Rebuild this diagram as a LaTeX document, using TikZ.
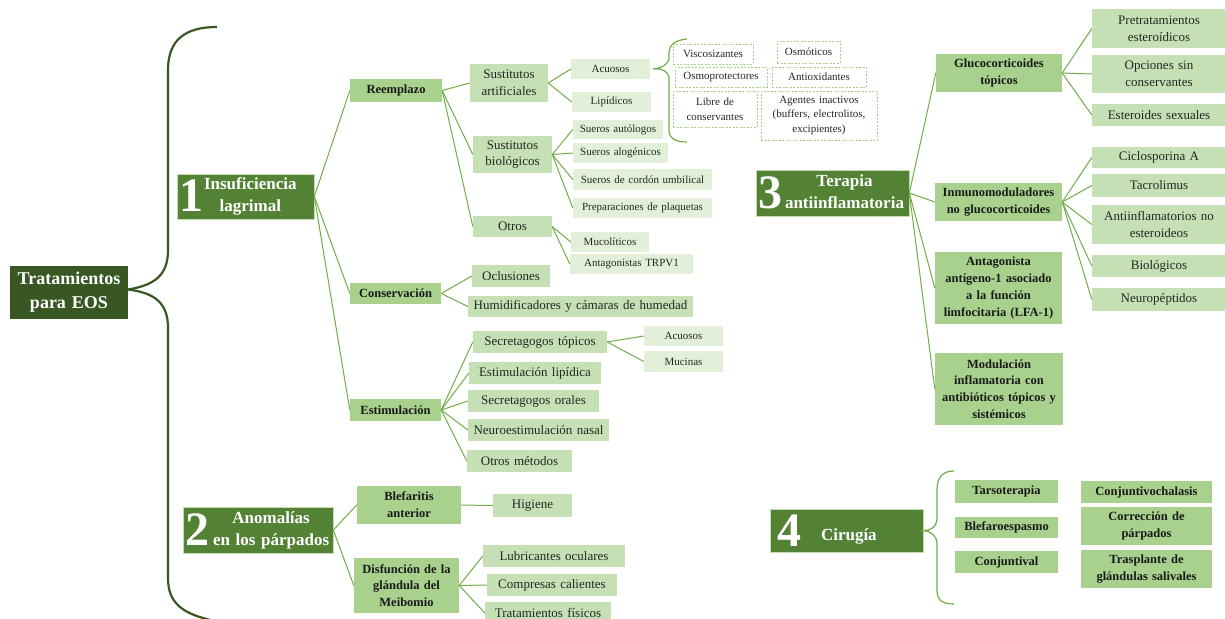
\documentclass[tikz,border=0pt]{standalone}
\usepackage{fontspec}
\setmainfont{Liberation Serif}
\usepackage{tikz}
\definecolor{rootgreen}{HTML}{385723}
\definecolor{midgreen}{HTML}{548235}
\definecolor{lgreen}{HTML}{A9D18E}
\definecolor{llgreen}{HTML}{C5E0B4}
\definecolor{lllgreen}{HTML}{E2F0D9}
\definecolor{linegreen}{HTML}{70AD47}
\tikzset{
  sz/.style 2 args={text width=#1pt, minimum height=#2pt},
  rootbox/.style={fill=rootgreen, text=white, inner sep=0pt, align=center, font=\fontsize{18}{24}\selectfont\bfseries},
  lvlone/.style={fill=midgreen, draw=lgreen!70, line width=0.6pt, text=white, inner xsep=2pt, inner ysep=0pt, align=left, font=\fontsize{17}{21.7}\selectfont\bfseries},
  lvltwo/.style={fill=lgreen, text=black!90, inner sep=0pt, align=center, font=\fontsize{12.5}{16.7}\selectfont\bfseries},
  lvlthree/.style={fill=llgreen, text=black!85, inner sep=0pt, align=center, font=\fontsize{13}{16.7}\selectfont},
  lvlfour/.style={fill=lllgreen, text=black!85, inner sep=0pt, align=center, font=\fontsize{11}{14.5}\selectfont},
  dashbox/.style={draw=lgreen, dash pattern=on 2pt off 1.5pt, line width=0.6pt, fill=white, text=black!85, inner sep=0pt, align=center, font=\fontsize{11}{14.5}\selectfont},
  conn/.style={draw=linegreen, line width=1pt},
  bigbrace/.style={draw=rootgreen, line width=2.2pt},
  smallbrace/.style={draw=linegreen, line width=1.2pt}
}
\newcommand{\bigdig}[1]{{\fontsize{48}{48}\selectfont #1}}

\begin{document}
\begin{tikzpicture}[x=1pt,y=-1pt]
  \clip (0,0) rectangle (1225,618);

  \node[rootbox, sz={118}{53}] (root) at (69,292.5) {Tratamientos\\para EOS};

  \node[lvlone, sz={133}{45}] (ins) at (245.5,196.5) {\mbox{\bigdig{1}\hspace{1pt}\begin{tabular}[b]{@{}c@{}}Insuficiencia\\lagrimal\end{tabular}}};
  \node[lvlone, sz={146}{46}] (ano) at (258,530) {\mbox{\bigdig{2}\hspace{4pt}\begin{tabular}[b]{@{}c@{}}Anomalías\\en los párpados\end{tabular}}};
  \node[lvlone, sz={149}{46}] (ter) at (832.5,193) {\mbox{\bigdig{3}\hspace{3pt}\begin{tabular}[b]{@{}c@{}}Terapia\\antiinflamatoria\end{tabular}}};
  \node[lvlone, sz={149}{43}] (cir) at (846.5,530.5) {\mbox{\hspace*{5pt}\bigdig{4}\hspace{20pt}\raisebox{6pt}{Cirugía}}};

  % insuficiencia lagrimal
  \node[lvltwo, sz={92}{23}] (rem) at (396,90.5) {Reemplazo};
  \node[lvltwo, sz={91}{21}] (con) at (395.5,293.5) {Conservación};
  \node[lvltwo, sz={91}{22}] (est) at (395.5,410) {Estimulación};

  \node[lvlthree, sz={78}{38}] (sart) at (509,83) {Sustitutos\\artificiales};
  \node[lvlthree, sz={79}{37}] (sbio) at (512.5,154.5) {Sustitutos\\biológicos};
  \node[lvlthree, sz={79}{21}] (otr) at (512.5,226.5) {Otros};
  \node[lvlthree, sz={78}{22}] (ocl) at (511,276) {Oclusiones};
  \node[lvlthree, sz={225}{21}] (hum) at (580.5,306.5) {Humidificadores y cámaras de humedad};
  \node[lvlthree, sz={134}{22}] (stop) at (540,342) {Secretagogos tópicos};
  \node[lvlthree, sz={132}{22}] (elip) at (535,373) {Estimulación lipídica};
  \node[lvlthree, sz={131}{22}] (sora) at (533.5,401) {Secretagogos orales};
  \node[lvlthree, sz={141}{22}] (neu) at (538.5,430) {Neuroestimulación nasal};
  \node[lvlthree, sz={105}{22}] (omet) at (519.5,461) {Otros métodos};

  \node[lvlfour, sz={79}{20}] (acu) at (610.5,69) {Acuosos};
  \node[lvlfour, sz={79}{20}] (lip) at (611.5,102) {Lipídicos};
  \node[lvlfour, sz={90}{19}] (saut) at (618,129.5) {Sueros autólogos};
  \node[lvlfour, sz={95}{20}] (salo) at (620.5,153) {Sueros alogénicos};
  \node[lvlfour, sz={139}{21}] (scor) at (642.5,179.5) {Sueros de cordón umbilical};
  \node[lvlfour, sz={139}{20}] (spla) at (642.5,208) {Preparaciones de plaquetas};
  \node[lvlfour, sz={78}{20}] (muc) at (610,242) {Mucolíticos};
  \node[lvlfour, sz={123}{20}] (trp) at (631.5,264) {Antagonistas TRPV1};
  \node[lvlfour, sz={79}{20}] (sacu) at (683.5,336) {Acuosos};
  \node[lvlfour, sz={79}{21}] (smuc) at (683.5,361.5) {Mucinas};

  \node[dashbox, sz={80}{20}] (vis) at (713,54) {Viscosizantes};
  \node[dashbox, sz={63}{22}] (osm) at (808.5,52) {Osmóticos};
  \node[dashbox, sz={92}{20}] (opr) at (721,77) {Osmoprotectores};
  \node[dashbox, sz={94}{20}] (aox) at (819,77) {Antioxidantes};
  \node[dashbox, sz={84}{36}] (lib) at (715,109) {Libre de\\conservantes};
  \node[dashbox, sz={116}{49}] (agi) at (819,115.5) {Agentes inactivos\\(buffers, electrolitos,\\excipientes)};

  % anomalias en los parpados
  \node[lvltwo, sz={104}{38}] (ble) at (409,505) {Blefaritis\\anterior};
  \node[lvltwo, sz={105}{55}] (dis) at (406.5,585.5) {Disfunción de la\\glándula del\\Meibomio};
  \node[lvlthree, sz={79}{23}] (hig) at (532.5,505.5) {Higiene};
  \node[lvlthree, sz={142}{22}] (lub) at (554,556) {Lubricantes oculares};
  \node[lvlthree, sz={130}{22}] (comp) at (552,585) {Compresas calientes};
  \node[lvlthree, sz={126}{22}] (tfis) at (548,613) {Tratamientos físicos};

  % terapia antiinflamatoria
  \node[lvltwo, sz={126}{38}] (glu) at (999,73) {Glucocorticoides\\tópicos};
  \node[lvltwo, sz={127}{38}] (inm) at (998.5,202) {Inmunomoduladores\\no glucocorticoides};
  \node[lvltwo, sz={127}{72}] (ant) at (998.5,288) {Antagonista\\antígeno-1 asociado\\a la función\\limfocitaria (LFA-1)};
  \node[lvltwo, sz={128}{72}] (mod) at (999,389) {Modulación\\inflamatoria con\\antibióticos tópicos y\\sistémicos};

  \node[lvlthree, sz={134}{39}] (pre) at (1159,28.5) {Pretratamientos\\esteroídicos};
  \node[lvlthree, sz={134}{38}] (ops) at (1159,74) {Opciones sin\\conservantes};
  \node[lvlthree, sz={134}{22}] (ess) at (1159,115) {Esteroides sexuales};
  \node[lvlthree, sz={134}{21}] (cic) at (1159,157.5) {Ciclosporina A};
  \node[lvlthree, sz={134}{23}] (tac) at (1159,185.5) {Tacrolimus};
  \node[lvlthree, sz={134}{39}] (ain) at (1159,224.5) {Antiinflamatorios no\\esteroideos};
  \node[lvlthree, sz={134}{22}] (bio) at (1159,266) {Biológicos};
  \node[lvlthree, sz={134}{23}] (neup) at (1159,299.5) {Neuropéptidos};

  % cirugia
  \node[lvltwo, sz={103}{23}] (tar) at (1006.5,491.5) {Tarsoterapia};
  \node[lvltwo, sz={103}{21}] (blf) at (1006.5,527.5) {Blefaroespasmo};
  \node[lvltwo, sz={103}{22}] (cjv) at (1006.5,562) {Conjuntival};
  \node[lvltwo, sz={131}{22}] (cch) at (1146.5,492) {Conjuntivochalasis};
  \node[lvltwo, sz={131}{38}] (cor) at (1146.5,526) {Corrección de\\párpados};
  \node[lvltwo, sz={131}{38}] (tra) at (1146.5,569) {Trasplante de\\glándulas salivales};

  \foreach \a/\b in {ins/rem, ins/con, ins/est, rem/sart, rem/sbio, rem/otr,
      sart/acu, sart/lip, sbio/saut, sbio/salo, sbio/scor, sbio/spla, otr/muc, otr/trp,
      con/ocl, con/hum, est/stop, est/elip, est/sora, est/neu, est/omet, stop/sacu, stop/smuc,
      ano/ble, ano/dis, ble/hig, dis/lub, dis/comp, dis/tfis,
      ter/glu, ter/inm, ter/ant, ter/mod, glu/pre, glu/ops, glu/ess,
      inm/cic, inm/tac, inm/ain, inm/bio, inm/neup} {
    \draw[conn] (\a.east) -- (\b.west);
  }

  % braces
  \coordinate (rtip) at ([yshift=3pt]root.east);
  \draw[bigbrace] (rtip) .. controls (155,285) and (168,275) .. (168,250) -- (168,70)
      .. controls (168,40) and (185,27) .. (217,27);
  \draw[bigbrace] (rtip) .. controls (155,293) and (168,303) .. (168,328) -- (168,578)
      .. controls (168,603) and (182,614) .. (215,621);
  \coordinate (btip) at ([xshift=3pt]acu.east);
  \draw[smallbrace] (687,39) .. controls (675,40) and (669,45) .. (669,53) -- (669,58)
      .. controls (669,64) and (662,68) .. (btip) .. controls (662,68) and (669,72) .. (669,78)
      -- (669,130) .. controls (669,138) and (675,142) .. (687,142);
  \draw[smallbrace] (954,471) .. controls (942,471) and (937,478) .. (937,490) -- (937,518)
      .. controls (937,527) and (930,531) .. (cir.east) .. controls (930,531) and (937,535) .. (937,544)
      -- (937,590) .. controls (937,600) and (942,604) .. (954,604);
\end{tikzpicture}
\end{document}
